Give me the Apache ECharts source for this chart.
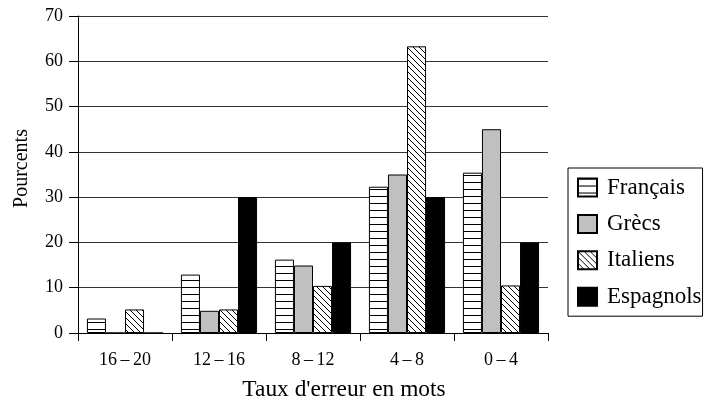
<!DOCTYPE html>
<html>
<head>
<meta charset="utf-8">
<script src="https://cdn.jsdelivr.net/npm/echarts@6/dist/echarts.min.js"></script>
<style>html,body{margin:0;padding:0;background:#fff}#c{width:704px;height:407px}</style>
</head>
<body>
<div id="c"></div>
<script>
const categories = ['16\u2009\u2013\u200920', '12\u2009\u2013\u200916', '8\u2009\u2013\u200912', '4\u2009\u2013\u20098', '0\u2009\u2013\u20094'];
const seriesNames = ['Français', 'Grècs', 'Italiens', 'Espagnols'];
const francais = [3.2, 12.9, 16.2, 32.3, 35.4];
const grecs = [0, 4.9, 14.9, 35, 45];
const italiens = [5.2, 5.2, 10.4, 63.3, 10.5];
const espagnols = [0, 30, 20, 30, 20];
const yTicks = [0, 10, 20, 30, 40, 50, 60, 70];

function hPattern() {
  const c = document.createElement('canvas');
  c.width = 8; c.height = 7;
  const g = c.getContext('2d');
  g.fillStyle = '#fff'; g.fillRect(0, 0, 8, 7);
  g.fillStyle = '#000'; g.fillRect(0, 0, 8, 1);
  return { image: c, repeat: 'repeat' };
}
function dPattern() {
  const s = 6;
  const c = document.createElement('canvas');
  c.width = s; c.height = s;
  const g = c.getContext('2d');
  g.fillStyle = '#fff'; g.fillRect(0, 0, s, s);
  g.strokeStyle = '#000'; g.lineWidth = 1;
  for (let k = -1; k <= 1; k++) {
    g.beginPath(); g.moveTo(k * s, 0); g.lineTo(k * s + s, s); g.stroke();
  }
  return { image: c, repeat: 'repeat' };
}

const font = 'Liberation Serif';
const fills = [hPattern(), '#c0c0c0', dPattern(), '#000'];
const data = [francais, grecs, italiens, espagnols];

const chart = echarts.init(document.getElementById('c'), null, { renderer: 'canvas' });
chart.setOption({
  animation: false,
  backgroundColor: '#fff',
  grid: { left: 78, right: 156, top: 16, bottom: 74, containLabel: false },
  legend: {
    orient: 'vertical', left: 568, top: 168,
    itemWidth: 19, itemHeight: 18, itemGap: 13.4,
    borderColor: '#000', borderWidth: 1, padding: [8, 1, 8, 9],
    textStyle: { fontFamily: font, fontSize: 23, color: '#000', padding: [0, 0, 0, 5] },
    icon: 'rect',
    data: seriesNames
  },
  xAxis: {
    type: 'category', data: categories,
    axisLine: { lineStyle: { color: '#000', width: 1 } },
    axisTick: { show: true, length: 8, lineStyle: { color: '#000' } },
    axisLabel: { fontFamily: font, fontSize: 18, color: '#000', margin: 18 },
    name: "Taux d'erreur en mots", nameLocation: 'middle', nameGap: 45,
    nameTextStyle: { fontFamily: font, fontSize: 23.4, color: '#000', padding: [0, 0, 0, 62] }
  },
  yAxis: {
    type: 'value', min: 0, max: 70, interval: 10,
    axisLine: { show: true, lineStyle: { color: '#000', width: 1 } },
    axisTick: { show: true, length: 9, lineStyle: { color: '#000' } },
    axisLabel: { fontFamily: font, fontSize: 18, color: '#000', margin: 15,
      formatter: v => yTicks.includes(v) ? String(v) : '' },
    splitLine: { show: true, lineStyle: { color: '#333', width: 1 } },
    name: 'Pourcents', nameLocation: 'middle', nameGap: 46, nameRotate: 90,
    nameTextStyle: { fontFamily: font, fontSize: 20, color: '#000', padding: [0, 0, 0, 12] }
  },
  series: seriesNames.map((n, i) => ({
    name: n, type: 'bar', data: data[i],
    barGap: '0%', barCategoryGap: '19%',
    itemStyle: { color: fills[i], borderColor: '#000', borderWidth: 1 }
  }))
});
</script>
</body>
</html>
